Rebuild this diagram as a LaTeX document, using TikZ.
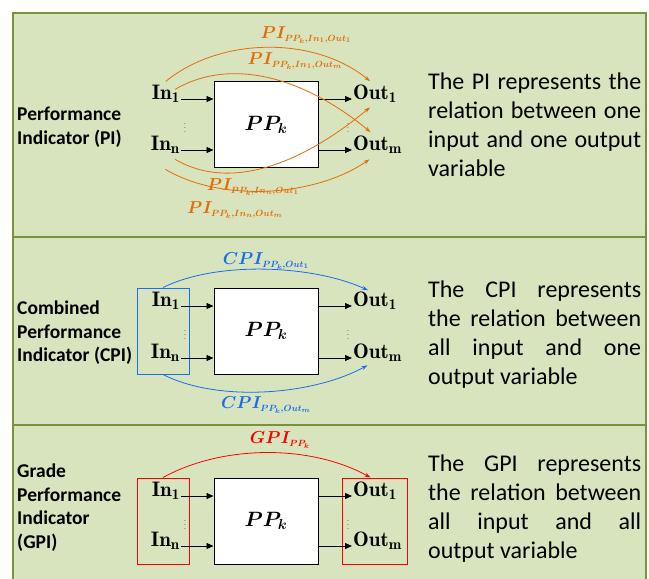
\documentclass[tikz,border=0pt]{standalone}
\usepackage{amsmath}
\usepackage{fontspec}
\newfontfamily\calibri{Carlito}
\usetikzlibrary{arrows.meta}
\DeclareMathSizes{21}{21}{15}{11}
\DeclareMathSizes{20}{20}{15}{11}
\DeclareMathSizes{18}{18}{9.5}{7}
\definecolor{panelgreen}{RGB}{216,228,189}
\definecolor{framegreen}{RGB}{119,147,60}
\definecolor{piorange}{RGB}{228,108,10}
\definecolor{cpiblue}{RGB}{25,110,235}
\definecolor{gpired}{RGB}{255,0,0}

\begin{document}
\begin{tikzpicture}[x=1pt,y=-1pt,
  proc/.style = {draw, fill=white, line width=1pt, minimum width=104pt, minimum height=86pt, font=\fontsize{20}{24}\selectfont},
  var/.style = {inner sep=1pt, font=\fontsize{21}{24}\selectfont},
  dots/.style = {inner sep=0pt, font=\fontsize{8}{8}\selectfont},
  flow/.style = {-{Triangle[length=7pt,width=6pt]}, line width=0.8pt},
  rel/.style = {line width=0.8pt, -{Stealth[length=6pt,width=4pt]}},
  lab/.style = {inner sep=0pt, font=\fontsize{18}{20}\selectfont},
  group/.style = {draw=#1, line width=1pt, minimum height=86pt},
  kind/.style = {anchor=west, align=left, inner sep=0pt, font=\calibri\bfseries\fontsize{19.5}{23.5}\selectfont},
  desc/.style = {anchor=west, text width=213pt, align=justify, inner sep=0pt, font=\calibri\fontsize{24}{29}\selectfont}]
  \useasboundingbox (0,0) rectangle (649,579);
  \fill[white] (0,0) rectangle (649,579);
  % panels
  \fill[panelgreen] (13,13) rectangle (646,579);
  \draw[framegreen, line width=1.2pt] (13,579) -- (13,13) -- (646,13) -- (646,579);
  \draw[framegreen, line width=1.2pt] (13,237) -- (646,237);
  \draw[framegreen, line width=1.2pt] (13,425) -- (646,425);

  % PI
  \node[kind] (k1) at (17,127) {Performance\\Indicator (PI)};
  \node[proc] (pp1) at (266,124.5) {$\boldsymbol{PP_k}$};
  \node[var, anchor=base east] (in1) at (181,99) {$\mathbf{In_1}$};
  \node[var, anchor=base east] (inn) at (181,150) {$\mathbf{In_n}$};
  \node[var, anchor=base west] (out1) at (352,99) {$\mathbf{Out_1}$};
  \node[var, anchor=base west] (outm) at (352,150) {$\mathbf{Out_m}$};
  \node[dots] (d1) at (185,125) {$\vdots$};
  \node[dots] (e1) at (348,125) {$\vdots$};
  \draw[flow] (in1.base east) -- (in1.base east -| pp1.west);
  \draw[flow] (inn.base east) -- (inn.base east -| pp1.west);
  \draw[flow] (pp1.east |- out1.base west) -- (out1.base west);
  \draw[flow] (pp1.east |- outm.base west) -- (outm.base west);
  \draw[rel, piorange] ([yshift=2pt]in1.north) .. controls +(55,-45) and +(-55,-45) .. ([xshift=-5pt,yshift=2pt]out1.north);
  \draw[rel, piorange] ([xshift=-6pt,yshift=-6pt]in1.north east) .. controls +(60,-35) and +(-60,-50) .. ([xshift=-7pt,yshift=2pt]outm.north);
  \draw[rel, piorange] ([xshift=-6pt,yshift=-5pt]inn.south east) .. controls +(60,35) and +(-60,50) .. ([xshift=-5pt,yshift=-4pt]out1.south);
  \draw[rel, piorange] ([yshift=-15pt]inn.south) .. controls +(55,33) and +(-55,38) .. ([xshift=-8pt,yshift=-5pt]outm.south);
  \node[lab, piorange] (l1) at (306,35) {$\boldsymbol{PI_{PP_k,In_1,Out_1}}$};
  \node[lab, piorange] (l2) at (295,61) {$\boldsymbol{PI_{PP_k,In_1,Out_m}}$};
  \node[lab, piorange] (l3) at (253,187) {$\boldsymbol{PI_{PP_k,In_n,Out_1}}$};
  \node[lab, piorange] (l4) at (235,210) {$\boldsymbol{PI_{PP_k,In_n,Out_m}}$};
  \node[desc] (t1) at (428,124.5) {The PI represents the\linebreak relation between one\linebreak input and one output\linebreak variable};

  % CPI
  \node[kind] (k2) at (17,333) {Combined\\Performance\\Indicator (CPI)};
  \node[proc] (pp2) at (266,331) {$\boldsymbol{PP_k}$};
  \node[group=cpiblue, minimum width=52pt] (cin) at (163,331) {};
  \node[var, anchor=base east] (in12) at (181,306) {$\mathbf{In_1}$};
  \node[var, anchor=base east] (inn2) at (181,358) {$\mathbf{In_n}$};
  \node[var, anchor=base west] (out12) at (352,306) {$\mathbf{Out_1}$};
  \node[var, anchor=base west] (outm2) at (352,358) {$\mathbf{Out_m}$};
  \node[dots] (d2) at (185,332) {$\vdots$};
  \node[dots] (e2) at (348,332) {$\vdots$};
  \draw[flow] (in12.base east) -- (in12.base east -| pp2.west);
  \draw[flow] (inn2.base east) -- (inn2.base east -| pp2.west);
  \draw[flow] (pp2.east |- out12.base west) -- (out12.base west);
  \draw[flow] (pp2.east |- outm2.base west) -- (outm2.base west);
  \draw[rel, cpiblue] (cin.north) .. controls +(55,-27) and +(-55,-25) .. ([xshift=-7pt]out12.north);
  \draw[rel, cpiblue] (cin.south) .. controls +(55,28) and +(-55,30) .. ([xshift=-10pt,yshift=-3pt]outm2.south);
  \node[lab, cpiblue] (lc1) at (266,261) {$\boldsymbol{CPI_{PP_k,Out_1}}$};
  \node[lab, cpiblue] (lc2) at (266,405) {$\boldsymbol{CPI_{PP_k,Out_m}}$};
  \node[desc] (t2) at (428,335) {The CPI represents\linebreak the relation between\linebreak all input and one\linebreak output variable};

  % GPI
  \node[kind] (k3) at (17,507.5) {Grade\\Performance\\Indicator\\(GPI)};
  \node[proc] (pp3) at (266,521) {$\boldsymbol{PP_k}$};
  \node[group=gpired, minimum width=52pt] (gin) at (163,521) {};
  \node[group=gpired, minimum width=65pt] (gout) at (374.5,521) {};
  \node[var, anchor=base east] (in13) at (181,496) {$\mathbf{In_1}$};
  \node[var, anchor=base east] (inn3) at (181,546) {$\mathbf{In_n}$};
  \node[var, anchor=base west] (out13) at (352,496) {$\mathbf{Out_1}$};
  \node[var, anchor=base west] (outm3) at (352,546) {$\mathbf{Out_m}$};
  \node[dots] (d3) at (185,522) {$\vdots$};
  \node[dots] (e3) at (348,522) {$\vdots$};
  \draw[flow] (in13.base east) -- (in13.base east -| pp3.west);
  \draw[flow] (inn3.base east) -- (inn3.base east -| pp3.west);
  \draw[flow] (pp3.east |- out13.base west) -- (out13.base west);
  \draw[flow] (pp3.east |- outm3.base west) -- (outm3.base west);
  \draw[rel, gpired] (gin.north) .. controls +(60,-33) and +(-60,-33) .. ([xshift=-4pt]gout.north);
  \node[lab, gpired] (lg) at (280,440) {$\boldsymbol{GPI_{PP_k}}$};
  \node[desc] (t3) at (428,508.5) {The GPI represents\linebreak the relation between\linebreak all input and all\linebreak output variable};
\end{tikzpicture}
\end{document}
